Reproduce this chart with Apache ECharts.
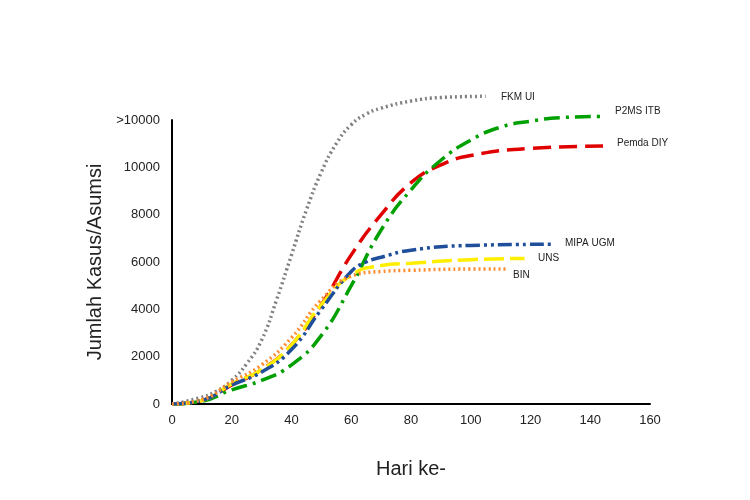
<!DOCTYPE html>
<html><head><meta charset="utf-8">
<script src="https://cdn.jsdelivr.net/npm/echarts@6/dist/echarts.min.js"></script>
<style>html,body{margin:0;background:#fff}#c{width:750px;height:500px}</style></head>
<body><div id="c"></div>
<script>
const xTicks = [0,20,40,60,80,100,120,140,160];
const fkmUI = [[0,0],[9,250],[15,550],[20,1000],[25,1700],[30,2700],[35,4400],[40,6300],[45,8200],[50,9800],[55,11000],[60,11800],[65,12250],[70,12500],[80,12800],[90,12950],[105,13000]];
const pemdaDIY = [[0,0],[10,150],[20,800],[30,1450],[40,2500],[50,4200],[60,6300],[70,8000],[80,9350],[90,10100],[100,10500],[120,10800],[145,10900]];
const p2msITB = [[0,0],[10,120],[20,600],[30,1000],[40,1650],[50,2900],[60,5000],[70,7350],[80,9050],[90,10300],[100,11150],[110,11700],[120,11950],[130,12100],[145,12150]];
const mipaUGM = [[0,0],[10,150],[20,800],[30,1350],[40,2300],[50,4000],[60,5600],[65,6000],[70,6200],[80,6500],[100,6700],[127,6750]];
const uns = [[0,0],[10,150],[20,850],[30,1450],[40,2500],[50,4200],[60,5450],[70,5850],[80,5950],[100,6100],[118,6150]];
const bin = [[0,0],[10,180],[20,930],[30,1650],[40,2800],[50,4400],[60,5400],[70,5600],[80,5650],[100,5700],[112,5700]];
const labels = [["FKM UI",501,98],["P2MS ITB",615,112],["Pemda DIY",617,144],["MIPA UGM",565,244],["UNS",538,259],["BIN",513,276]];
const F = "'Liberation Sans', sans-serif";
function s(name,data,color,type){return {name,type:'line',data,smooth:0.5,symbol:'none',clip:false,
  lineStyle:{color,width:3.5,type,cap:'butt'}};}
const chart = echarts.init(document.getElementById('c'));
chart.setOption({
  animation:false,
  grid:{left:172,right:100,top:120,bottom:96},
  xAxis:{type:'value',min:0,max:160,interval:20,
    axisLine:{lineStyle:{color:'#000',width:2}},axisTick:{show:false},splitLine:{show:false},
    axisLabel:{color:'#222',fontSize:13,fontFamily:F,margin:10},
    name:'Hari ke-',nameLocation:'middle',nameGap:55,nameTextStyle:{fontSize:20,color:'#222',fontFamily:F}},
  yAxis:{type:'value',min:0,max:12000,interval:2000,
    axisLine:{show:true,lineStyle:{color:'#000',width:2}},axisTick:{show:false},splitLine:{show:false},
    axisLabel:{color:'#222',fontSize:13,fontFamily:F,margin:12,formatter:v=>v===12000?'>10000':String(v)},
    name:'Jumlah Kasus/Asumsi',nameLocation:'middle',nameGap:62,nameTextStyle:{fontSize:20,color:'#222',fontFamily:F}},
  series:[
    s('FKM UI',fkmUI,'#808080',[2,3]),
    s('Pemda DIY',pemdaDIY,'#e00000',[18,8]),
    s('P2MS ITB',p2msITB,'#00a000',[16,6,3,6]),
    s('UNS',uns,'#ffee00',[20,6]),
    s('MIPA UGM',mipaUGM,'#1f4e9a',[14,4,3,4,3,4]),
    s('BIN',bin,'#ff8c30',[2,3])
  ],
  graphic:labels.map(l=>({type:'text',left:l[1],top:l[2]-6,style:{text:l[0],fontSize:10,fontFamily:F,fill:'#222'}}))
});
</script></body></html>
